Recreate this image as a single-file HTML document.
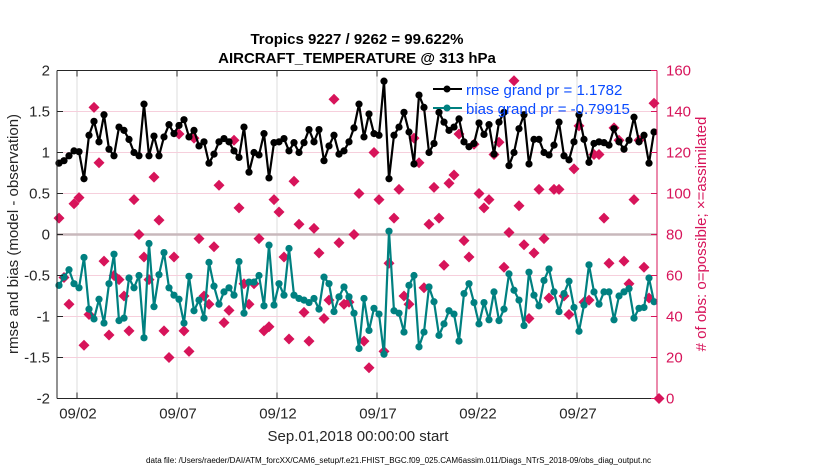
<!DOCTYPE html>
<html><head><meta charset="utf-8"><style>
html,body{margin:0;padding:0;background:#fff;}
svg{display:block;font-family:"Liberation Sans",sans-serif;}
</style></head><body>
<svg id="chart" width="830" height="470" viewBox="0 0 830 470" xmlns="http://www.w3.org/2000/svg">
<text x="357" y="44" text-anchor="middle" font-size="15" font-weight="bold" fill="#000">Tropics 9227 / 9262 = 99.622%</text>
<text x="357" y="63" text-anchor="middle" font-size="15" font-weight="bold" fill="#000">AIRCRAFT_TEMPERATURE @ 313 hPa</text>
<g id="grid"></g>
<g id="marks"></g>
<g id="axes"></g>
<text transform="translate(18,234) rotate(-90)" text-anchor="middle" font-size="15" fill="#262626">rmse and bias (model - observation)</text>
<text transform="translate(706,234) rotate(-90)" text-anchor="middle" font-size="15" fill="#d7145a"># of obs: o=possible; ×=assimilated</text>
<text x="358" y="441" text-anchor="middle" font-size="15" fill="#262626">Sep.01,2018 00:00:00 start</text>
<text x="146" y="463" font-size="8" textLength="505" lengthAdjust="spacingAndGlyphs" fill="#000">data file: /Users/raeder/DAI/ATM_forcXX/CAM6_setup/f.e21.FHIST_BGC.f09_025.CAM6assim.011/Diags_NTrS_2018-09/obs_diag_output.nc</text>
<g>
<line x1="433" y1="89" x2="462" y2="89" stroke="#000" stroke-width="2"/><circle cx="447" cy="89" r="3.5" fill="#000"/>
<text x="466" y="95" font-size="15" fill="#0a4bff">rmse grand pr = 1.1782</text>
<line x1="433" y1="108" x2="462" y2="108" stroke="#008080" stroke-width="2"/><circle cx="447" cy="108" r="3.5" fill="#008080"/>
<text x="466" y="114" font-size="15" fill="#0a4bff">bias grand pr = -0.79915</text>
</g>
</svg>
<script>
const rmse = [0.87,0.90,0.96,1.02,1.01,0.68,1.21,1.38,1.13,1.46,1.04,0.96,1.31,1.27,1.16,1.00,0.96,1.59,0.96,1.20,0.96,1.19,1.34,1.23,1.33,1.40,1.19,1.27,1.08,1.13,0.87,
0.98,1.13,1.17,1.13,1.02,0.94,1.31,0.76,1.00,0.97,1.23,0.69,1.12,1.13,1.17,1.02,1.12,1.00,1.12,1.28,1.13,1.28,0.90,1.08,1.21,0.98,1.02,1.13,1.30,1.59,
1.19,1.47,1.23,1.21,1.87,0.68,1.21,1.31,1.49,1.25,0.86,1.70,1.55,1.00,1.11,1.49,1.37,1.27,1.31,1.41,1.13,1.07,1.11,1.36,1.22,1.34,0.98,1.37,1.49,0.84,
1.00,1.29,1.46,0.86,1.16,1.16,1.00,0.97,1.09,1.37,0.96,0.91,1.13,1.46,1.16,0.88,1.11,1.13,1.12,1.09,1.29,1.13,1.04,1.15,1.43,1.13,1.21,0.87,1.25];
const bias = [-0.62,-0.52,-0.43,-0.60,-0.65,-0.28,-0.91,-1.03,-0.79,-1.08,-0.60,-0.24,-1.05,-1.02,-0.53,-0.65,-0.50,-1.26,-0.11,-0.88,-0.49,-0.22,-0.65,-0.74,-0.79,-1.08,-0.51,-0.93,-0.80,-1.02,-0.34,
-0.63,-0.85,-0.70,-0.65,-0.74,-0.33,-0.96,-0.58,-0.58,-0.50,-0.87,-0.13,-0.86,-0.60,-0.74,-0.17,-0.74,-0.78,-0.80,-0.83,-0.78,-0.91,-0.52,-0.60,-0.94,-0.76,-0.64,-0.76,-0.96,-1.39,
-0.78,-1.17,-0.90,-0.97,-1.46,0.04,-0.93,-0.96,-1.19,-0.62,-0.50,-1.37,-1.19,-0.64,-0.82,-1.23,-1.09,-0.93,-0.97,-1.30,-0.72,-0.60,-0.83,-1.09,-0.83,-1.04,-0.70,-1.05,-0.91,-0.48,
-0.68,-0.80,-1.11,-0.46,-0.74,-0.87,-0.56,-0.42,-0.70,-0.94,-0.72,-0.57,-0.89,-1.18,-0.86,-0.37,-0.70,-0.85,-0.70,-0.70,-1.04,-0.75,-0.70,-0.66,-1.02,-0.90,-0.89,-0.53,-0.82];
const nobs = [88,59,46,95,98,26,41,142,115,67,31,60,58,50,33,97,80,69,58,108,87,33,20,69,129,33,23,127,78,50,46,
74,104,37,43,126,93,56,46,56,78,33,35,97,91,69,29,106,85,42,28,83,71,39,48,146,76,46,47,80,100,
28,15,120,97,23,66,88,102,50,46,127,115,54,85,103,88,65,105,109,129,77,69,124,100,93,97,119,125,64,81,
155,94,75,39,71,102,78,49,102,102,50,41,112,133,47,48,119,119,88,66,132,126,67,56,97,126,64,49,144,0];
const xTickLabels = ["09/02","09/07","09/12","09/17","09/22","09/27"];
const xTickDays = [1,6,11,16,21,26];
const yLeftTicks = [2,1.5,1,0.5,0,-0.5,-1,-1.5,-2];
const yRightTicks = [160,140,120,100,80,60,40,20,0];
const t0 = 0.1, dt = 0.25;

const L=57,R=657,T=70.5,B=398.5;
const xS = d => L + (d/30)*(R-L);
const yS = v => T + (2-v)/4*(B-T);
const yC = c => B - c/160*(B-T);
const NS="http://www.w3.org/2000/svg";
function mk(tag, attrs, parent){const e=document.createElementNS(NS,tag);for(const k in attrs)e.setAttribute(k,attrs[k]);parent.appendChild(e);return e;}
const grid=document.getElementById('grid'), marks=document.getElementById('marks'), axes=document.getElementById('axes');

mk('rect',{x:L,y:T,width:R-L,height:B-T,fill:'#fff'},grid);
xTickDays.forEach(d=>{const g=mk('line',{x1:xS(d),x2:xS(d),y1:T,y2:B,stroke:'#dcdcdc','stroke-width':1},grid);

});
yLeftTicks.forEach(v=>{if(v===0||Math.abs(v)===2)return;const g=mk('line',{x1:L,x2:R,y1:yS(v),y2:yS(v),stroke:'#f6cfdc','stroke-width':1},grid);

});
const z=mk('line',{x1:L,x2:R,y1:yS(0),y2:yS(0),stroke:'#c8b8bc','stroke-width':2.5},grid);



nobs.forEach((c,i)=>{const x=xS(t0+i*dt),y=yC(c);
const p=mk('path',{d:`M${x} ${y-5.5}L${x+5.5} ${y}L${x} ${y+5.5}L${x-5.5} ${y}Z`,fill:'#d7145a'},marks);

});

function series(vals,color,name){
 const pts=vals.map((v,i)=>`${xS(t0+i*dt).toFixed(1)},${yS(v).toFixed(1)}`).join(' ');
 const pl=mk('polyline',{points:pts,fill:'none',stroke:color,'stroke-width':2.2,'stroke-linejoin':'round'},marks);
 
 
 vals.forEach((v,i)=>{const c=mk('circle',{cx:xS(t0+i*dt),cy:yS(v),r:3.6,fill:color},marks);
 
 });
}
series(rmse,'#000','rmse');
series(bias,'#008080','bias');

mk('line',{x1:L,x2:R,y1:T,y2:T,stroke:'#262626','stroke-width':1},axes);
mk('line',{x1:L,x2:R,y1:B,y2:B,stroke:'#262626','stroke-width':1},axes);
mk('line',{x1:L,x2:L,y1:T,y2:B,stroke:'#262626','stroke-width':1},axes);
mk('line',{x1:R,x2:R,y1:T,y2:B,stroke:'#d7145a','stroke-width':1},axes);
xTickDays.forEach((d,i)=>{
 mk('line',{x1:xS(d),x2:xS(d),y1:B,y2:B-6,stroke:'#262626'},axes);
 mk('line',{x1:xS(d),x2:xS(d),y1:T,y2:T+6,stroke:'#262626'},axes);
 const t=mk('text',{x:xS(d)+1,y:B+20,'text-anchor':'middle','font-size':15,fill:'#262626'},axes);
 t.textContent=xTickLabels[i];
 
 });
yLeftTicks.forEach(v=>{
 mk('line',{x1:L,x2:L+6,y1:yS(v),y2:yS(v),stroke:'#262626'},axes);
 const t=mk('text',{x:L-7,y:yS(v)+5,'text-anchor':'end','font-size':15,fill:'#262626'},axes);
 t.textContent=String(v);
 
 });
yRightTicks.forEach(c=>{
 mk('line',{x1:R,x2:R-6,y1:yC(c),y2:yC(c),stroke:'#d7145a'},axes);
 const t=mk('text',{x:R+9,y:yC(c)+5,'font-size':15,fill:'#d7145a'},axes);
 t.textContent=String(c);
 
 });
</script>
</body></html>
